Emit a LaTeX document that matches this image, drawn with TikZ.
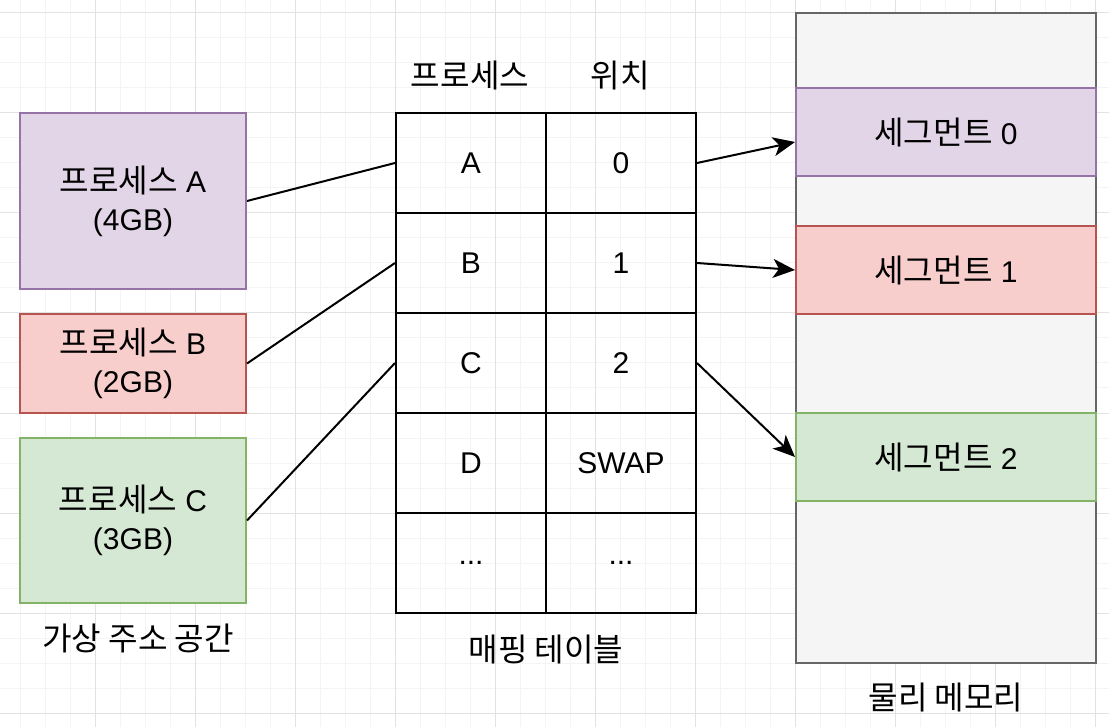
\documentclass[tikz,border=0pt]{standalone}
\usepackage{fontspec}
\setmainfont{Liberation Sans}
\newfontfamily\kr{Noto Sans CJK KR}[Scale=1.07]
\usetikzlibrary{arrows.meta}
\definecolor{purfill}{HTML}{E1D5E7}\definecolor{purline}{HTML}{9673A6}
\definecolor{redfill}{HTML}{F8CECC}\definecolor{redline}{HTML}{B85450}
\definecolor{grnfill}{HTML}{D5E8D4}\definecolor{grnline}{HTML}{82B366}
\definecolor{memfill}{HTML}{F5F5F5}\definecolor{memline}{HTML}{666666}
\definecolor{minorgrid}{HTML}{F4F4F4}\definecolor{majorgrid}{HTML}{E2E2E2}
\begin{document}
\begin{tikzpicture}[x=1pt,y=-1pt,
  every node/.style={font=\fontsize{30}{38}\selectfont, align=center, inner sep=0pt},
  box/.style={draw, line width=2pt, minimum width=226pt},
  cell/.style={draw=black, line width=2pt, minimum width=150pt, minimum height=100pt},
  seg/.style={draw, line width=2pt, minimum width=300pt, minimum height=88pt},
  link/.style={line width=2pt},
  arr/.style={line width=2pt, -{Stealth[length=22pt,width=19pt,inset=6pt]}},
  lbl/.style={font=\kr\fontsize{30}{36}\selectfont}
]
\useasboundingbox (0,0) rectangle (1109,727);
\fill[white] (0,0) rectangle (1109,727);
% grid
\foreach \x in {20,45,...,1109} \draw[minorgrid, line width=1pt] (\x,0) -- (\x,727);
\foreach \y in {13,38,...,727} \draw[minorgrid, line width=1pt] (0,\y) -- (1109,\y);
\foreach \x in {95,195,...,1109} \draw[majorgrid, line width=1pt] (\x,0) -- (\x,727);
\foreach \y in {13,113,...,727} \draw[majorgrid, line width=1pt] (0,\y) -- (1109,\y);

% virtual address space
\node[box, draw=purline, fill=purfill, minimum height=176pt] (pa) at (133,201) {{\kr 프로세스} A\\(4GB)};
\node[box, draw=redline, fill=redfill, minimum height=99pt] (pb) at (133,363.5) {{\kr 프로세스} B\\(2GB)};
\node[box, draw=grnline, fill=grnfill, minimum height=165pt] (pc) at (133,520.5) {{\kr 프로세스} C\\(3GB)};
\node[lbl] (vlabel) at (138,638) {가상 주소 공간};

% mapping table
\node[lbl] (h1) at (470,75) {프로세스};
\node[lbl] (h2) at (620,75) {위치};
\node[cell] (ca) at (471,163) {A};
\node[cell] (c0) at (621,163) {0};
\node[cell] (cb) at (471,263) {B};
\node[cell] (c1) at (621,263) {1};
\node[cell] (cc) at (471,363) {C};
\node[cell] (c2) at (621,363) {2};
\node[cell] (cd) at (471,463) {D};
\node[cell] (cs) at (621,463) {SWAP};
\node[cell] (ce) at (471,563) {...};
\node[cell] (cf) at (621,563) {...};
\node[lbl] (tlabel) at (546,649) {매핑 테이블};

% physical memory
\node[draw=memline, fill=memfill, line width=2pt, minimum width=300pt, minimum height=650pt] (mem) at (946,338) {};
\node[seg, draw=purline, fill=purfill] (s0) at (946,132) {{\kr 세그먼트} 0};
\node[seg, draw=redline, fill=redfill] (s1) at (946,270) {{\kr 세그먼트} 1};
\node[seg, draw=grnline, fill=grnfill] (s2) at (946,457) {{\kr 세그먼트} 2};
\node[lbl] (mlabel) at (946,697) {물리 메모리};

% connectors
\draw[link] (pa.east) -- (ca.west);
\draw[link] (pb.east) -- (cb.west);
\draw[link] (pc.east) -- (cc.west);
\draw[arr] (c0.east) -- ([yshift=-10pt]s0.west);
\draw[arr] (c1.east) -- (s1.west);
\draw[arr] (c2.east) -- (s2.west);
\end{tikzpicture}
\end{document}
